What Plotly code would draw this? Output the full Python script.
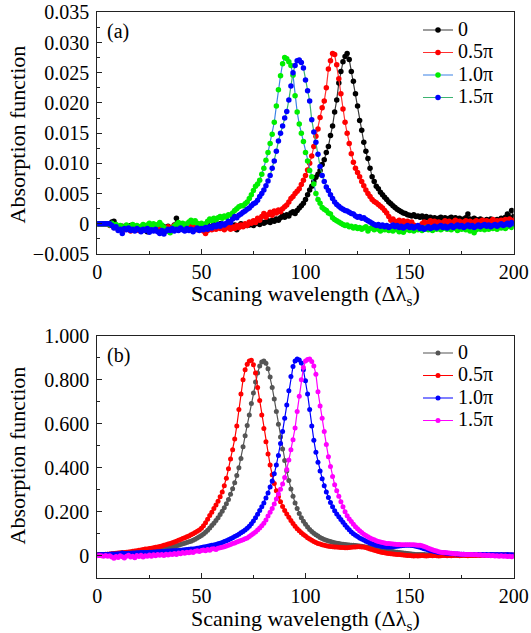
import plotly.graph_objects as go

# ---------------- Panel (a) data ----------------
a_names = ["0", "0.5π", "1.0π", "1.5π"]

a_phase0 = [
    0, 0, 0, 0, 0, 0, -0.0002, 0.0003, 0.0004, -0.0005,
    -0.0008, -0.0006, -0.0004, -0.0009, -0.0007, -0.0005, -0.0003, -0.0010, -0.0006, -0.0004,
    -0.0008, -0.0012, -0.0006, -0.0009, -0.0013, -0.0007, -0.0005, -0.0010, -0.0006, -0.0003,
    -0.0008, -0.0011, -0.0005, -0.0007, -0.0004, -0.0009, -0.0006, -0.0002, 0.0009, -0.0004,
    -0.0008, -0.0005, -0.0003, -0.0007, -0.0006, -0.0002, -0.0005, -0.0008, -0.0004, -0.0006,
    -0.0003, -0.0007, -0.0005, -0.0002, -0.0006, -0.0004, -0.0001, -0.0005, -0.0003, 0.0000,
    -0.0004, -0.0002, -0.0006, -0.0001, -0.0003, -0.0005, -0.0002, -0.0010, -0.0003, 0.0000,
    -0.0004, -0.0001, -0.0003, -0.0002, 0.0001, -0.0003, 0.0000, 0.0002, -0.0001, 0.0003,
    0.0001, 0.0003, 0.0005, 0.0002, 0.0006, 0.0004, 0.0008, 0.0006, 0.0010, 0.0014,
    0.0011, 0.0015, 0.0013, 0.0018, 0.0020, 0.0017, 0.0022, 0.0026, 0.0030, 0.0034,
    0.0040, 0.0048, 0.0056, 0.0062, 0.0070, 0.0077, 0.0082, 0.0088, 0.0098, 0.0106,
    0.0118, 0.0128, 0.0146, 0.0162, 0.0185, 0.0205, 0.0233, 0.0252, 0.0268, 0.0277,
    0.0282, 0.0272, 0.0252, 0.0236, 0.0215, 0.0195, 0.0171, 0.0155, 0.0135, 0.0120,
    0.0108, 0.0092, 0.0078, 0.0070, 0.0062, 0.0058, 0.0052, 0.0048, 0.0044, 0.0040,
    0.0036, 0.0033, 0.0030, 0.0027, 0.0024, 0.0022, 0.0020, 0.0018, 0.0017, 0.0015,
    0.0014, 0.0013, 0.0015, 0.0012, 0.0013, 0.0011, 0.0013, 0.0010, 0.0012, 0.0009,
    0.0011, 0.0008, 0.0010, 0.0007, 0.0009, 0.0011, 0.0008, 0.0010, 0.0007, 0.0009,
    0.0011, 0.0008, 0.0010, 0.0007, 0.0009, 0.0006, 0.0008, 0.0010, 0.0016, 0.0008,
    0.0006, 0.0009, 0.0007, 0.0005, 0.0008, 0.0006, 0.0004, 0.0007, 0.0005, 0.0008,
    0.0006, 0.0004, 0.0007, 0.0005, 0.0009, 0.0006, 0.0011, 0.0016, 0.0010, 0.0022,
    0.0012,
]

a_phase05 = [
    0, 0, 0, 0, 0, 0, -0.0003, -0.0001, -0.0006, -0.0004,
    -0.0009, -0.0007, -0.0005, -0.0010, -0.0006, -0.0008, -0.0012, -0.0005, -0.0009, -0.0007,
    -0.0011, -0.0006, -0.0010, -0.0008, -0.0005, -0.0012, -0.0009, -0.0006, -0.0011, -0.0008,
    -0.0004, -0.0009, -0.0007, -0.0012, -0.0005, -0.0008, -0.0006, -0.0003, -0.0007, -0.0010,
    -0.0005, -0.0008, -0.0004, -0.0009, -0.0006, -0.0003, -0.0008, -0.0005, -0.0010, -0.0007,
    -0.0009, -0.0012, -0.0016, -0.0011, -0.0008, -0.0010, -0.0006, -0.0009, -0.0005, -0.0008,
    -0.0006, -0.0010, -0.0007, -0.0004, -0.0009, -0.0005, -0.0008, -0.0003, -0.0006, -0.0002,
    -0.0005, 0.0000, -0.0003, 0.0003, 0.0001, 0.0005, 0.0002, 0.0009, 0.0006, 0.0012,
    0.0017, 0.0011, 0.0015, 0.0019, 0.0014, 0.0021, 0.0018, 0.0023, 0.0020, 0.0025,
    0.0028, 0.0031, 0.0036, 0.0042, 0.0045, 0.0050, 0.0054, 0.0058, 0.0065, 0.0072,
    0.0080, 0.0089, 0.0100, 0.0112, 0.0128, 0.0145, 0.0157, 0.0176, 0.0192, 0.0203,
    0.0225, 0.0256, 0.0270, 0.0282, 0.0280, 0.0263, 0.0240, 0.0215, 0.0190, 0.0168,
    0.0150, 0.0133, 0.0116, 0.0102, 0.0092, 0.0085, 0.0078, 0.0070, 0.0063, 0.0056,
    0.0050, 0.0045, 0.0040, 0.0037, 0.0035, 0.0032, 0.0029, 0.0026, 0.0022, 0.0018,
    0.0012, 0.0006, 0.0008, 0.0004, 0.0003, 0.0006, 0.0002, 0.0005, 0.0001, 0.0004,
    0.0000, 0.0003, -0.0002, -0.0005, -0.0008, -0.0004, 0.0000, 0.0003, -0.0001, 0.0002,
    0.0005, 0.0001, 0.0004, 0.0000, 0.0003, -0.0002, 0.0002, 0.0005, 0.0001, 0.0004,
    0.0000, 0.0003, 0.0006, 0.0002, 0.0004, 0.0001, 0.0003, 0.0005, 0.0002, 0.0004,
    0.0001, 0.0003, 0.0005, 0.0002, 0.0004, 0.0006, 0.0003, 0.0005, 0.0002, 0.0004,
    0.0007, 0.0003, 0.0005, 0.0002, 0.0006, 0.0004, 0.0007, 0.0003, 0.0008, 0.0005,
    0.0006,
]

a_phase10 = [
    0, 0, 0, 0, 0, 0, -0.0002, 0.0001, -0.0004, -0.0001,
    -0.0006, -0.0003, -0.0008, -0.0005, -0.0002, -0.0007, -0.0004, -0.0001, -0.0006, -0.0003,
    -0.0008, -0.0004, -0.0001, -0.0005, -0.0002, 0.0001, -0.0003, 0.0000, -0.0004, -0.0001,
    0.0002, -0.0002, -0.0006, -0.0009, -0.0012, -0.0015, -0.0008, -0.0004, -0.0001, 0.0002,
    -0.0002, 0.0001, -0.0003, 0.0000, 0.0003, 0.0006, 0.0002, 0.0005, 0.0001, -0.0002,
    0.0001, -0.0003, 0.0000, 0.0004, 0.0008, 0.0005, 0.0009, 0.0006, 0.0010, 0.0012,
    0.0009, 0.0013, 0.0011, 0.0015, 0.0014, 0.0018, 0.0022, 0.0025, 0.0028, 0.0030,
    0.0030, 0.0033, 0.0036, 0.0042, 0.0048, 0.0055, 0.0062, 0.0066, 0.0072, 0.0082,
    0.0092, 0.0105, 0.0118, 0.0133, 0.0148, 0.0168, 0.0195, 0.0222, 0.0245, 0.0265,
    0.0275, 0.0273, 0.0268, 0.0262, 0.0246, 0.0212, 0.0185, 0.0165, 0.0150, 0.0136,
    0.0118, 0.0104, 0.0088, 0.0078, 0.0066, 0.0050, 0.0040, 0.0034, 0.0027, 0.0024,
    0.0022, 0.0018, 0.0016, 0.0010, 0.0007, 0.0005, 0.0003, 0.0001, -0.0001, -0.0003,
    -0.0002, -0.0005, -0.0004, -0.0007, -0.0005, -0.0008, -0.0006, -0.0009, -0.0007, -0.0005,
    -0.0012, -0.0008, -0.0006, -0.0010, -0.0007, -0.0009, -0.0012, -0.0008, -0.0010, -0.0007,
    -0.0011, -0.0009, -0.0012, -0.0008, -0.0010, -0.0013, -0.0009, -0.0014, -0.0010, -0.0008,
    -0.0011, -0.0009, -0.0012, -0.0008, -0.0010, -0.0007, -0.0011, -0.0009, -0.0006, -0.0010,
    -0.0008, -0.0011, -0.0007, -0.0009, -0.0006, -0.0010, -0.0008, -0.0005, -0.0009, -0.0007,
    -0.0010, -0.0006, -0.0008, -0.0011, -0.0007, -0.0009, -0.0006, -0.0010, -0.0008, -0.0012,
    -0.0009, -0.0015, -0.0010, -0.0007, -0.0009, -0.0006, -0.0010, -0.0007, -0.0009, -0.0005,
    -0.0008, -0.0006, -0.0009, -0.0005, -0.0007, -0.0004, -0.0008, -0.0005, -0.0003, -0.0006,
    -0.0002,
]

a_phase15 = [
    0, 0, 0, 0, 0, 0, 0, -0.0003, -0.0007, -0.0005,
    -0.0011, -0.0009, -0.0016, -0.0008, -0.0010, -0.0007, -0.0011, -0.0009, -0.0012, -0.0008,
    -0.0010, -0.0013, -0.0009, -0.0011, -0.0008, -0.0014, -0.0010, -0.0012, -0.0009, -0.0013,
    -0.0016, -0.0011, -0.0017, -0.0012, -0.0009, -0.0011, -0.0008, -0.0012, -0.0009, -0.0011,
    -0.0007, -0.0010, -0.0012, -0.0008, -0.0011, -0.0009, -0.0013, -0.0010, -0.0007, -0.0011,
    -0.0008, -0.0010, -0.0006, -0.0009, -0.0005, -0.0007, -0.0003, -0.0005, -0.0001, -0.0004,
    0.0000, -0.0002, 0.0001, 0.0004, 0.0002, 0.0008, 0.0012, 0.0010, 0.0014, 0.0016,
    0.0019, 0.0021, 0.0024, 0.0026, 0.0030, 0.0033, 0.0035, 0.0039, 0.0045, 0.0050,
    0.0056, 0.0063, 0.0071, 0.0080, 0.0092, 0.0104, 0.0120, 0.0137, 0.0150, 0.0162,
    0.0175, 0.0186, 0.0205, 0.0228, 0.0250, 0.0262, 0.0270, 0.0271, 0.0267, 0.0258,
    0.0238, 0.0220, 0.0203, 0.0172, 0.0152, 0.0135, 0.0115, 0.0095, 0.0080, 0.0070,
    0.0061, 0.0055, 0.0048, 0.0042, 0.0036, 0.0032, 0.0029, 0.0026, 0.0024, 0.0022,
    0.0021, 0.0019, 0.0017, 0.0016, 0.0013, 0.0011, 0.0012, 0.0009, 0.0010, 0.0007,
    0.0005, 0.0003, 0.0001, -0.0001, -0.0003, -0.0001, -0.0004, -0.0002, -0.0005, -0.0003,
    -0.0006, -0.0004, -0.0002, -0.0005, -0.0003, -0.0006, -0.0004, -0.0007, -0.0005, -0.0003,
    -0.0006, -0.0004, -0.0007, -0.0005, -0.0003, -0.0008, -0.0006, -0.0009, -0.0007, -0.0005,
    -0.0008, -0.0006, -0.0004, -0.0007, -0.0005, -0.0003, -0.0006, -0.0004, -0.0007, -0.0005,
    -0.0003, -0.0006, -0.0004, -0.0002, -0.0005, -0.0003, -0.0006, -0.0004, -0.0002, -0.0005,
    -0.0003, -0.0006, -0.0004, -0.0002, -0.0005, -0.0003, -0.0001, -0.0004, -0.0002, -0.0005,
    -0.0003, -0.0001, -0.0004, -0.0002, 0.0000, -0.0003, -0.0001, 0.0001, -0.0002, 0.0002,
    0.0000,
]

# ---------------- Panel (b) data ----------------
b_names = ["0", "0.5π", "1.0π", "1.5π"]

b_phase0 = [
    0.004, 0.005, 0.005, 0.006, 0.006, 0.007, 0.007, 0.008, 0.008, 0.009,
    0.010, 0.010, 0.011, 0.011, 0.012, 0.012, 0.013, 0.014, 0.014, 0.015,
    0.016, 0.017, 0.017, 0.018, 0.019, 0.020, 0.021, 0.022, 0.023, 0.025,
    0.026, 0.028, 0.030, 0.032, 0.034, 0.036, 0.039, 0.042, 0.045, 0.048,
    0.051, 0.054, 0.057, 0.060, 0.063, 0.066, 0.070, 0.075, 0.080, 0.086,
    0.092, 0.099, 0.107, 0.116, 0.126, 0.137, 0.148, 0.160, 0.173, 0.187,
    0.202, 0.218, 0.236, 0.256, 0.279, 0.304, 0.332, 0.364, 0.400, 0.442,
    0.495, 0.545, 0.592, 0.640, 0.692, 0.740, 0.790, 0.830, 0.862, 0.880,
    0.885, 0.875, 0.850, 0.812, 0.765, 0.712, 0.655, 0.598, 0.540, 0.485,
    0.433, 0.385, 0.342, 0.303, 0.270, 0.240, 0.215, 0.192, 0.173, 0.157,
    0.143, 0.130, 0.119, 0.110, 0.102, 0.095, 0.089, 0.083, 0.078, 0.074,
    0.070, 0.067, 0.064, 0.061, 0.059, 0.057, 0.055, 0.053, 0.052, 0.051,
    0.050, 0.049, 0.048, 0.047, 0.046, 0.045, 0.044, 0.043, 0.041, 0.040,
    0.039, 0.037, 0.036, 0.034, 0.032, 0.030, 0.028, 0.027, 0.025, 0.023,
    0.022, 0.020, 0.019, 0.017, 0.016, 0.015, 0.013, 0.012, 0.011, 0.010,
    0.009, 0.008, 0.007, 0.006, 0.006, 0.005, 0.005, 0.005, 0.004, 0.004,
    0.004, 0.004, 0.004, 0.003, 0.004, 0.003, 0.003, 0.004, 0.003, 0.003,
    0.003, 0.003, 0.002, 0.003, 0.003, 0.002, 0.003, 0.002, 0.002, 0.003,
    0.002, 0.002, 0.003, 0.002, 0.002, 0.002, 0.003, 0.002, 0.002, 0.002,
    0.002, 0.003, 0.002, 0.002, 0.002, 0.003, 0.002, 0.002, 0.003, 0.002,
    0.002,
]

b_phase05 = [
    0.005, 0.005, 0.006, 0.006, 0.007, 0.007, 0.008, 0.009, 0.010, 0.011,
    0.012, 0.013, 0.014, 0.015, 0.016, 0.017, 0.018, 0.020, 0.021, 0.023,
    0.025, 0.026, 0.028, 0.030, 0.031, 0.033, 0.034, 0.036, 0.038, 0.040,
    0.042, 0.044, 0.047, 0.050, 0.053, 0.056, 0.059, 0.062, 0.066, 0.070,
    0.074, 0.078, 0.082, 0.086, 0.090, 0.095, 0.100, 0.105, 0.111, 0.117,
    0.125, 0.136, 0.150, 0.166, 0.183, 0.198, 0.214, 0.230, 0.248, 0.268,
    0.290, 0.318, 0.352, 0.395, 0.440, 0.482, 0.530, 0.590, 0.665, 0.735,
    0.800, 0.845, 0.870, 0.885, 0.888, 0.868, 0.830, 0.765, 0.705, 0.640,
    0.578, 0.518, 0.462, 0.412, 0.368, 0.328, 0.295, 0.268, 0.245, 0.224,
    0.206, 0.190, 0.175, 0.160, 0.146, 0.134, 0.123, 0.113, 0.104, 0.096,
    0.089, 0.082, 0.076, 0.070, 0.065, 0.060, 0.056, 0.053, 0.050, 0.047,
    0.045, 0.043, 0.042, 0.041, 0.040, 0.039, 0.038, 0.037, 0.037, 0.036,
    0.036, 0.037, 0.038, 0.039, 0.040, 0.041, 0.041, 0.040, 0.039, 0.037,
    0.034, 0.031, 0.028, 0.025, 0.022, 0.019, 0.017, 0.015, 0.013, 0.011,
    0.010, 0.009, 0.008, 0.007, 0.006, 0.005, 0.004, 0.003, 0.002, 0.001,
    0.001, 0.000, -0.001, 0.000, -0.001, 0.000, 0.001, 0.000, -0.001, 0.000,
    0.001, 0.000, 0.001, 0.000, -0.001, 0.000, 0.001, 0.001, 0.000, 0.001,
    0.000, 0.001, 0.002, 0.001, 0.000, 0.001, 0.002, 0.001, 0.000, 0.001,
    0.002, 0.001, 0.002, 0.001, 0.002, 0.003, 0.002, 0.001, 0.002, 0.003,
    0.002, 0.003, 0.002, 0.003, 0.002, 0.003, 0.004, 0.003, 0.002, 0.003,
    0.003,
]

b_phase10 = [
    0.004, 0.004, 0.005, 0.005, 0.006, 0.006, 0.007, 0.008, 0.008, 0.008,
    0.009, 0.009, 0.012, 0.010, 0.010, 0.011, 0.011, 0.012, 0.012, 0.013,
    0.013, 0.014, 0.014, 0.015, 0.015, 0.016, 0.016, 0.017, 0.017, 0.018,
    0.018, 0.019, 0.019, 0.020, 0.021, 0.021, 0.022, 0.023, 0.024, 0.024,
    0.025, 0.026, 0.027, 0.028, 0.029, 0.030, 0.031, 0.032, 0.034, 0.035,
    0.037, 0.039, 0.041, 0.043, 0.045, 0.047, 0.049, 0.051, 0.054, 0.057,
    0.060, 0.064, 0.068, 0.072, 0.077, 0.082, 0.087, 0.092, 0.098, 0.104,
    0.110, 0.117, 0.125, 0.134, 0.145, 0.158, 0.172, 0.188, 0.205, 0.222,
    0.240, 0.262, 0.285, 0.312, 0.340, 0.372, 0.412, 0.455, 0.510, 0.565,
    0.625, 0.685, 0.750, 0.815, 0.860, 0.885, 0.894, 0.890, 0.876, 0.845,
    0.795, 0.735, 0.665, 0.590, 0.525, 0.470, 0.425, 0.385, 0.350, 0.318,
    0.290, 0.265, 0.242, 0.222, 0.204, 0.190, 0.177, 0.165, 0.152, 0.140,
    0.128, 0.118, 0.108, 0.100, 0.093, 0.087, 0.081, 0.076, 0.071, 0.066,
    0.062, 0.058, 0.054, 0.051, 0.048, 0.046, 0.044, 0.042, 0.041, 0.040,
    0.040, 0.040, 0.041, 0.042, 0.043, 0.044, 0.045, 0.046, 0.047, 0.047,
    0.047, 0.046, 0.045, 0.043, 0.041, 0.038, 0.035, 0.032, 0.029, 0.026,
    0.023, 0.021, 0.019, 0.017, 0.015, 0.014, 0.013, 0.012, 0.011, 0.010,
    0.009, 0.009, 0.008, 0.008, 0.007, 0.007, 0.007, 0.006, 0.006, 0.006,
    0.006, 0.005, 0.006, 0.005, 0.005, 0.006, 0.005, 0.005, 0.004, 0.005,
    0.005, 0.004, 0.005, 0.004, 0.005, 0.004, 0.004, 0.005, 0.004, 0.004,
    0.004,
]

b_phase15 = [
    0.000, 0.001, 0.000, -0.002, 0.001, -0.003, 0.000, -0.006, -0.012, -0.004,
    -0.008, 0.000, -0.005, -0.010, -0.003, 0.002, -0.006, -0.002, -0.009, 0.001,
    -0.004, 0.002, -0.006, 0.000, -0.003, 0.003, -0.002, 0.004, 0.000, 0.005,
    0.002, 0.006, 0.001, 0.007, 0.003, 0.008, 0.005, 0.010, 0.006, 0.012,
    0.009, 0.014, 0.011, 0.016, 0.013, 0.018, 0.015, 0.020, 0.022, 0.019,
    0.024, 0.026, 0.023, 0.028, 0.025, 0.030, 0.032, 0.028, 0.034, 0.036,
    0.038, 0.041, 0.044, 0.047, 0.051, 0.055, 0.058, 0.062, 0.066, 0.069,
    0.073, 0.077, 0.081, 0.087, 0.094, 0.101, 0.108, 0.117, 0.126, 0.136,
    0.148, 0.162, 0.180, 0.198, 0.215, 0.235, 0.258, 0.280, 0.302, 0.326,
    0.355, 0.392, 0.435, 0.482, 0.527, 0.580, 0.655, 0.725, 0.800, 0.855,
    0.885, 0.892, 0.894, 0.883, 0.862, 0.825, 0.745, 0.680, 0.625, 0.565,
    0.505, 0.450, 0.405, 0.360, 0.322, 0.295, 0.270, 0.245, 0.222, 0.200,
    0.182, 0.167, 0.155, 0.143, 0.132, 0.122, 0.113, 0.105, 0.098, 0.092,
    0.086, 0.081, 0.076, 0.072, 0.068, 0.065, 0.062, 0.060, 0.058, 0.056,
    0.055, 0.054, 0.053, 0.052, 0.051, 0.051, 0.050, 0.050, 0.050, 0.050,
    0.050, 0.050, 0.050, 0.049, 0.048, 0.047, 0.045, 0.042, 0.038, 0.034,
    0.030, 0.027, 0.024, 0.021, 0.018, 0.016, 0.015, 0.014, 0.013, 0.012,
    0.011, 0.010, 0.009, 0.009, 0.008, 0.007, 0.007, 0.006, 0.006, 0.005,
    0.005, 0.004, 0.005, 0.003, 0.004, 0.002, 0.003, 0.001, 0.002, 0.000,
    0.001, -0.001, 0.000, -0.002, 0.000, -0.003, -0.001, -0.004, -0.002, -0.005,
    -0.003,
]

# tick labels
a_ytick_vals = [-0.005, 0, 0.005, 0.010, 0.015, 0.020, 0.025, 0.030, 0.035]
a_ytick_text = ["−0.005", "0", "0.005", "0.010", "0.015", "0.020", "0.025", "0.030", "0.035"]
b_ytick_vals = [0, 0.2, 0.4, 0.6, 0.8, 1.0]
b_ytick_text = ["0", "0.200", "0.400", "0.600", "0.800", "1.000"]

# styles: (line colour, marker colour)
a_styles = [("#3a3a3a", "#000000"), ("#ff3030", "#ff0000"),
            ("#3a82e6", "#00ee00"), ("#3cb371", "#0000ff")]
b_styles = [("#555555", "#555555"), ("#ff0000", "#ff0000"),
            ("#0000ff", "#0000ff"), ("#ff00ff", "#ff00ff")]

FONT = "Liberation Serif, DejaVu Serif, serif"


def legend_label(txt):
    # legend row spacing follows the legend font size; the label itself is drawn larger
    return '<span style="font-size:20px">' + txt + '</span>'


fig = go.Figure()

for name, ys, (lc, mc) in zip(a_names, [a_phase0, a_phase05, a_phase10, a_phase15], a_styles):
    fig.add_trace(go.Scatter(
        x=list(range(len(ys))), y=ys, mode="lines+markers", name=legend_label(name),
        line=dict(color=lc, width=1.2),
        marker=dict(color=mc, size=5.5),
        xaxis="x", yaxis="y", legend="legend",
    ))

for name, ys, (lc, mc) in zip(b_names, [b_phase0, b_phase05, b_phase10, b_phase15], b_styles):
    fig.add_trace(go.Scatter(
        x=list(range(len(ys))), y=ys, mode="lines+markers", name=legend_label(name),
        line=dict(color=lc, width=1.2),
        marker=dict(color=mc, size=5),
        xaxis="x2", yaxis="y2", legend="legend2",
    ))

axis_common = dict(
    showline=True, linecolor="#222222", linewidth=1.3, mirror=True,
    ticks="inside", ticklen=5, tickwidth=1, tickcolor="#222222",
    showgrid=False, zeroline=False, automargin=False,
    tickfont=dict(family=FONT, size=20, color="black"),
)

xdom = [97.3 / 531, 513.7 / 531]

fig.update_layout(
    template="none",
    width=531, height=633, autosize=False,
    margin=dict(l=0, r=0, t=0, b=0, pad=0),
    paper_bgcolor="white", plot_bgcolor="white",
    font=dict(family=FONT, size=20, color="black"),
    showlegend=True,
    xaxis=dict(domain=xdom, anchor="y", range=[0, 200], dtick=50, tick0=0,
               minor=dict(ticks="inside", ticklen=3, dtick=25, tick0=0, tickcolor="#222222"),
               **axis_common),
    yaxis=dict(domain=[1 - 254 / 633, 1 - 12.3 / 633], anchor="x", range=[-0.005, 0.035],
               tickmode="array", tickvals=a_ytick_vals, ticktext=a_ytick_text,
               minor=dict(ticks="inside", ticklen=3, dtick=0.0025, tick0=0, tickcolor="#222222"),
               ticklabelstandoff=3,
               **axis_common),
    xaxis2=dict(domain=xdom, anchor="y2", range=[0, 200], dtick=50, tick0=0,
                minor=dict(ticks="inside", ticklen=3, dtick=25, tick0=0, tickcolor="#222222"),
                **axis_common),
    yaxis2=dict(domain=[1 - 577.7 / 633, 1 - 335.7 / 633], anchor="x2", range=[-0.1, 1.0],
                tickmode="array", tickvals=b_ytick_vals, ticktext=b_ytick_text,
                minor=dict(ticks="inside", ticklen=3, dtick=0.1, tick0=0, tickcolor="#222222"),
                ticklabelstandoff=3,
                **axis_common),
    legend=dict(x=418 / 531, y=1 - 13.75 / 633, xanchor="left", yanchor="top",
                bgcolor="rgba(0,0,0,0)", borderwidth=0, tracegroupgap=0,
                font=dict(family=FONT, size=15, color="black")),
    legend2=dict(x=418 / 531, y=1 - 336.75 / 633, xanchor="left", yanchor="top",
                 bgcolor="rgba(0,0,0,0)", borderwidth=0, tracegroupgap=0,
                 font=dict(family=FONT, size=15, color="black")),
)

xtitle = "Scaning wavelength (Δλ<sub>s</sub>)"
ytitle = "Absorption function"
annots = [
    dict(text=xtitle, x=305.5 / 531, y=1 - 295 / 633),
    dict(text=xtitle, x=305.5 / 531, y=1 - 620 / 633),
    dict(text=ytitle, x=17 / 531, y=1 - 134.5 / 633, textangle=-90),
    dict(text=ytitle, x=17 / 531, y=1 - 455.5 / 633, textangle=-90),
]
for a in annots:
    fig.add_annotation(xref="paper", yref="paper", showarrow=False,
                       xanchor="center", yanchor="middle",
                       font=dict(family=FONT, size=22, color="black"), **a)

for label, yc in [("(a)", 31.5), ("(b)", 355)]:
    fig.add_annotation(text=label, xref="paper", yref="paper", showarrow=False,
                       x=105 / 531, y=1 - yc / 633, xanchor="left", yanchor="middle",
                       font=dict(family=FONT, size=20, color="black"))

fig.write_html(
    "out.html",
    config={"responsive": False, "displayModeBar": False},
    post_script="document.body.style.margin='0px';document.body.style.overflow='hidden';",
)
